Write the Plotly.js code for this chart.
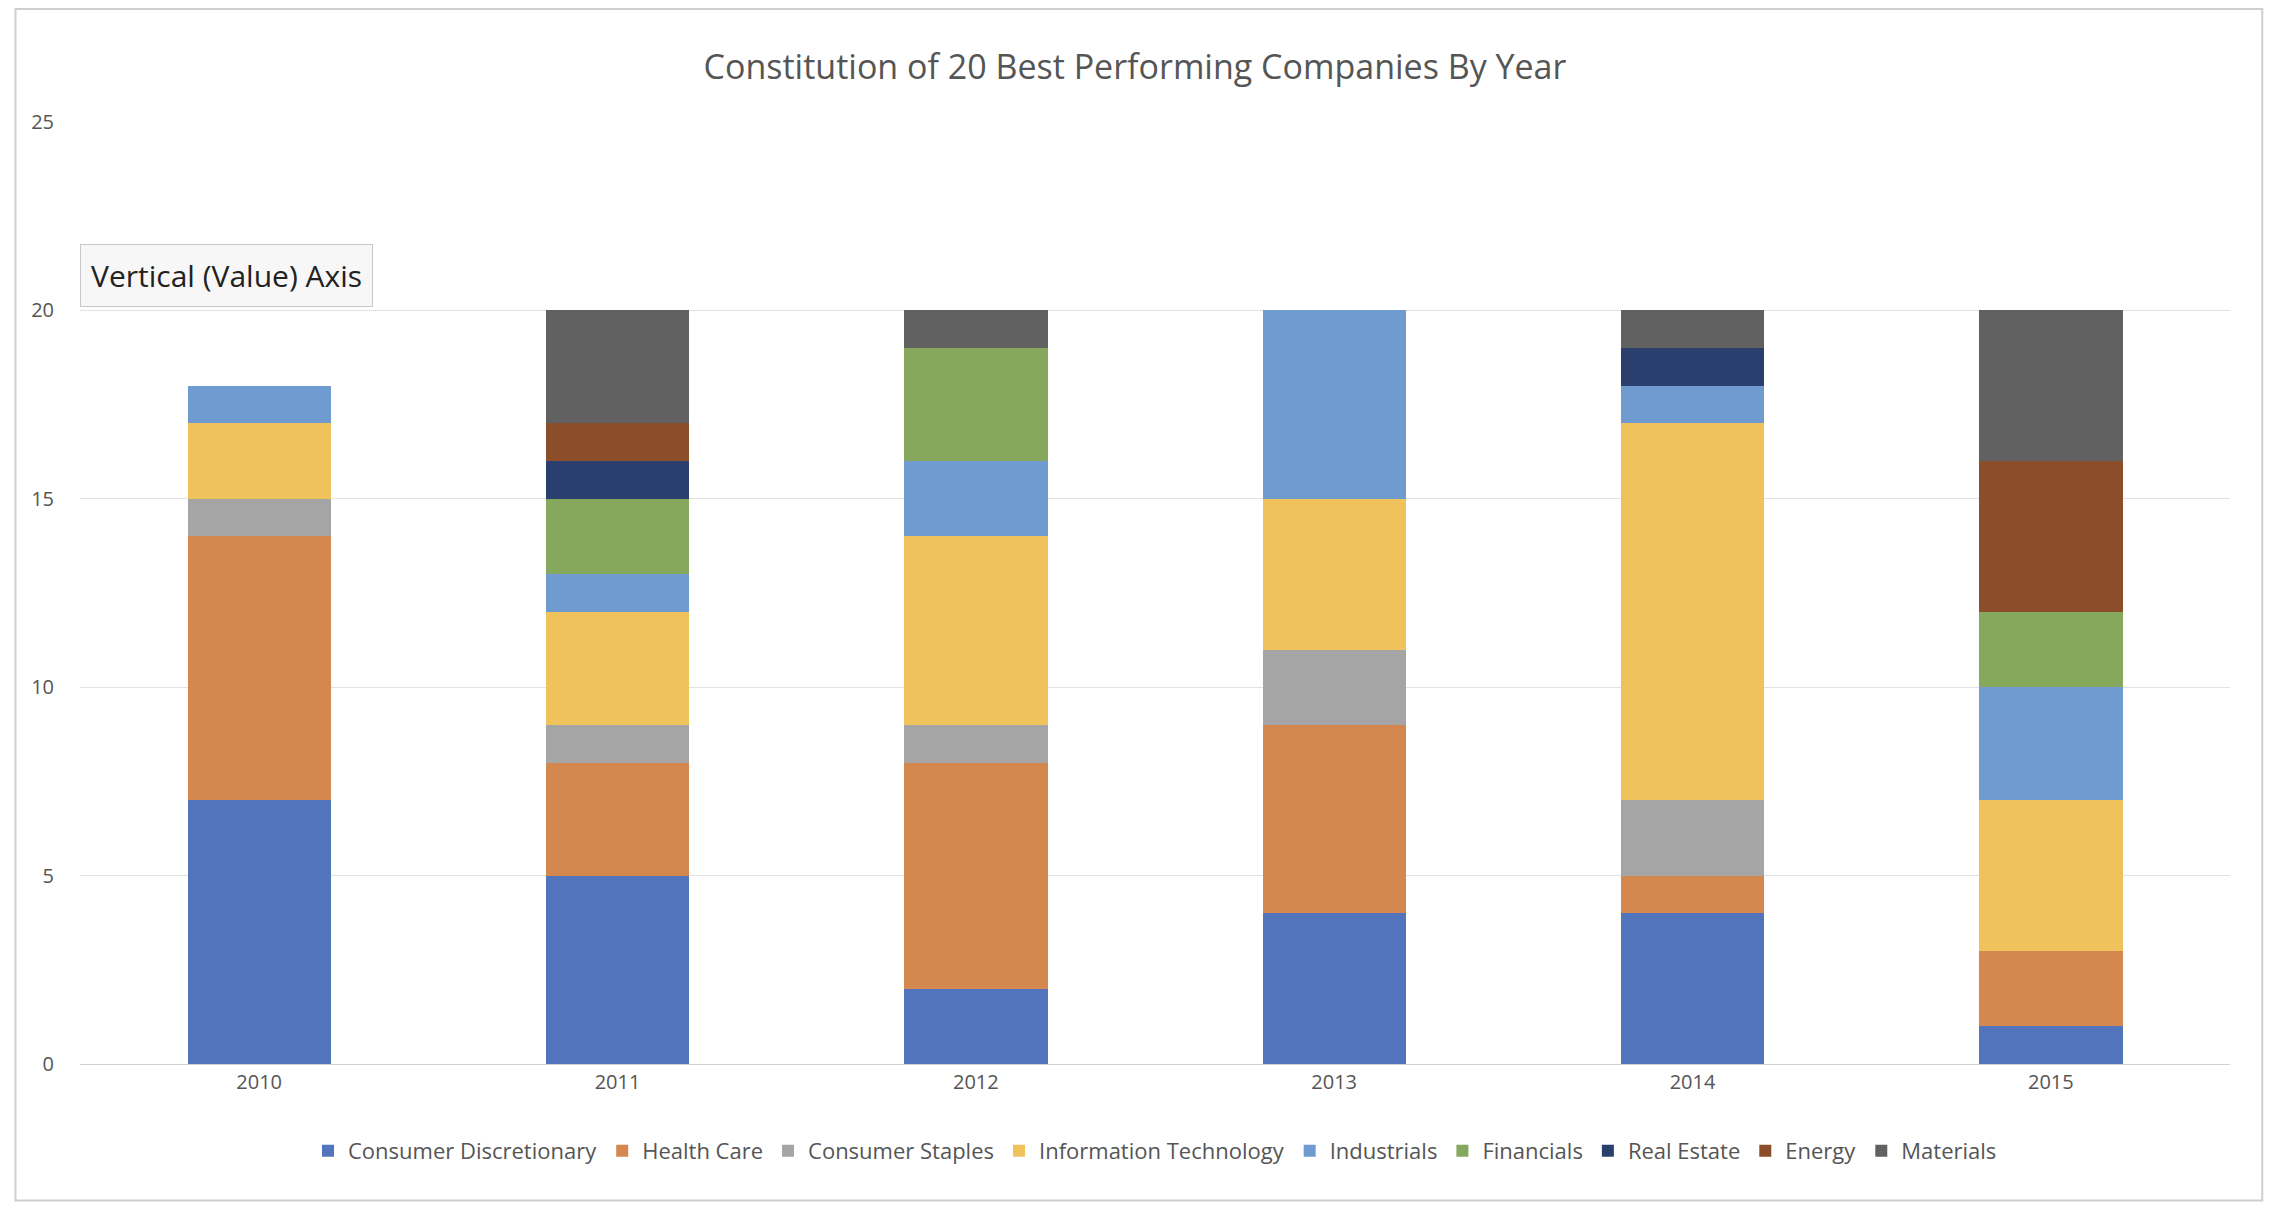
<!DOCTYPE html>
<html>
<head>
<meta charset="utf-8">
<script src="https://cdn.plot.ly/plotly-3.0.1.min.js"></script>
<style>body{margin:0;background:#fff}#chart{width:2270px;height:1218px}</style>
</head>
<body>
<div id="chart"></div>
<script>
// years on the x axis
const years = ['2010', '2011', '2012', '2013', '2014', '2015'];

// companies per sector, one value per year
const consumerDiscretionary = [7, 5, 2, 4, 4, 1];
const healthCare = [7, 3, 6, 5, 1, 2];
const consumerStaples = [1, 1, 1, 2, 2, 0];
const informationTechnology = [2, 3, 5, 4, 10, 4];
const industrials = [1, 1, 2, 5, 1, 3];
const financials = [0, 2, 3, 0, 0, 2];
const realEstate = [0, 1, 0, 0, 1, 0];
const energy = [0, 1, 0, 0, 0, 4];
const materials = [0, 3, 1, 0, 1, 4];

const series = [
  ['Consumer Discretionary', consumerDiscretionary, '#5274bd'],
  ['Health Care', healthCare, '#d4874e'],
  ['Consumer Staples', consumerStaples, '#a5a5a5'],
  ['Information Technology', informationTechnology, '#efc25c'],
  ['Industrials', industrials, '#6f9bd0'],
  ['Financials', financials, '#86a85c'],
  ['Real Estate', realEstate, '#2b3f6e'],
  ['Energy', energy, '#8c4d2a'],
  ['Materials', materials, '#616161']
];

const data = series.map(([name, vals, color]) => ({
  type: 'bar', name: name, x: years, y: vals,
  marker: {color: color}, width: 0.4
}));

const layout = {
  barmode: 'stack',
  width: 2270, height: 1218,
  margin: {l: 80, r: 40, t: 122, b: 154},
  font: {family: 'Open Sans, sans-serif', color: '#444'},
  title: {text: 'Constitution of 20 Best Performing Companies By Year',
          x: 0.5, y: 0.955, font: {size: 34, color: '#555'}},
  xaxis: {tickfont: {size: 20, color: '#555'}, showline: true, linecolor: '#d0d0d0', ticks: ''},
  yaxis: {range: [0, 25], dtick: 5, tickfont: {size: 20, color: '#555'},
          gridcolor: '#e2e2e2', zeroline: false, ticklabelstandoff: 25},
  legend: {orientation: 'h', x: 0.5, xanchor: 'center', y: -0.07, yanchor: 'top',
           font: {size: 22, color: '#555'}, traceorder: 'normal'},
  showlegend: true,
  shapes: [{type: 'rect', xref: 'paper', yref: 'paper', x0: -0.03, x1: 1.015, y0: -0.145, y1: 1.12,
            line: {color: '#cfcfcf', width: 2}}],
  annotations: [{xref: 'paper', yref: 'paper', x: 0.0, y: 0.87, xanchor: 'left',
                 text: 'Vertical (Value) Axis', showarrow: false,
                 font: {size: 30, color: '#222'}, bgcolor: '#f7f7f7',
                 bordercolor: '#c8c8c8', borderwidth: 1, borderpad: 10}]
};

Plotly.newPlot('chart', data, layout, {displayModeBar: false});
</script>
</body>
</html>
